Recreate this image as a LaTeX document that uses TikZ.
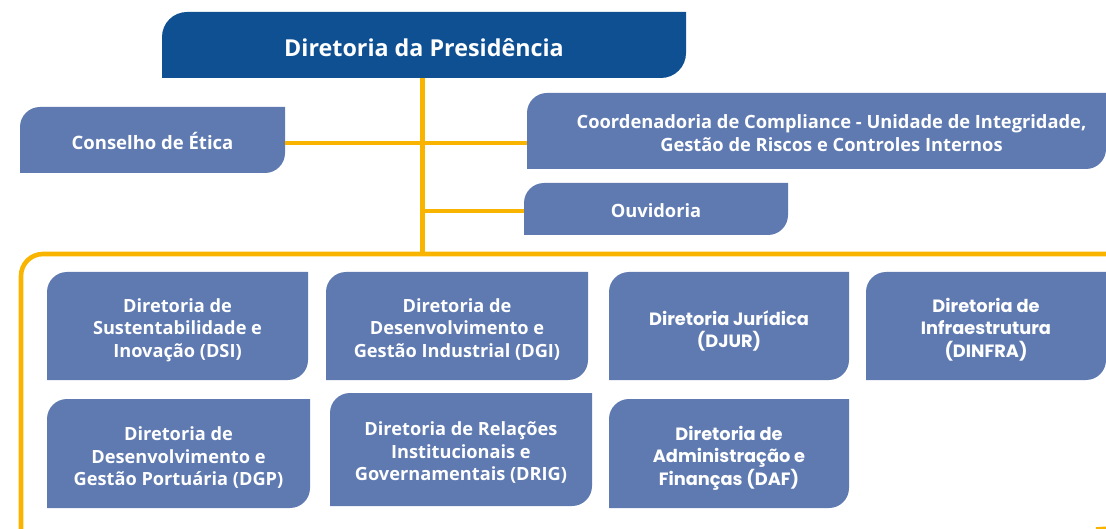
\documentclass[tikz,border=0pt]{standalone}
\usepackage{fontspec}
\setmainfont{Open Sans}
\newfontfamily\popp{Poppins}
\definecolor{darkblue}{HTML}{0F5092}
\definecolor{midblue}{HTML}{5F7AB1}
\definecolor{gold}{HTML}{F9B400}
\tikzset{
  orgbox/.style n args={2}{inner sep=0pt, outer sep=0pt, text=white, align=center,
    font=\bfseries\fontsize{18.2}{22.5}\selectfont,
    path picture={\fill[#1] (path picture bounding box.south west)
      -- ([yshift=-#2]path picture bounding box.north west)
      arc[start angle=180,end angle=90,radius=#2]
      -- (path picture bounding box.north east)
      -- ([yshift=#2]path picture bounding box.south east)
      arc[start angle=0,end angle=-90,radius=#2] -- cycle;}},
  unit/.style={orgbox={midblue}{20pt}},
  topfont/.style={font=\bfseries\fontsize{18.3}{23}\selectfont},
  poppfont/.style={font=\popp\bfseries\fontsize{17.8}{22.5}\selectfont},
  down/.style={text height=#1, text depth=0pt},
  link/.style={draw=gold, line width=4.6pt},
}
\begin{document}
\begin{tikzpicture}[x=1pt,y=1pt]
\useasboundingbox (0,0) rectangle (1106,-529);
% frame
\coordinate (ftop) at (422.5,-254);
\draw[link] (1112,-254) -- (43,-254) arc[start angle=90,end angle=180,radius=22] -- (21,-535);
\draw[link] (1096,-529.5) -- (1110,-528.5);
% nodes
\node[orgbox={darkblue}{25pt}, minimum width=524pt, minimum height=66pt, down=22.6pt,
      font=\bfseries\fontsize{23.3}{26}\selectfont] (pres) at (424,-45) {Diretoria da Presidência};
\node[unit, topfont, down=19pt, minimum width=265pt, minimum height=66pt, font=\bfseries\fontsize{18.5}{23}\selectfont] (etica) at (152.5,-140) {Conselho de Ética};
\node[unit, topfont, down=41pt, minimum width=579pt, minimum height=76pt] (comp) at (816.5,-131) {\hspace*{30pt}Coordenadoria de Compliance - Unidade de Integridade,\\\hspace*{30pt}Gestão de Riscos e Controles Internos};
\node[unit, topfont, down=18pt, minimum width=264pt, minimum height=52pt] (ouv) at (656,-209) {Ouvidoria};
\node[unit, down=63pt, minimum width=261pt, minimum height=108pt] (dsi) at (177.5,-326) {Diretoria de\\Sustentabilidade e\\Inovação (DSI)};
\node[unit, down=63pt, minimum width=262pt, minimum height=108pt] (dgi) at (457,-326) {Diretoria de\\Desenvolvimento e\\Gestão Industrial (DGI)};
\node[unit, poppfont, down=43.8pt, minimum width=240pt, minimum height=108pt] (djur) at (729,-326) {Diretoria Jurídica\\(DJUR)};
\node[unit, poppfont, down=62.4pt, minimum width=240pt, minimum height=108pt] (dinfra) at (986,-326) {Diretoria de\\Infraestrutura\\(DINFRA)};
\node[unit, down=64pt, minimum width=263pt, minimum height=109pt] (dgp) at (178.5,-453.5) {Diretoria de\\Desenvolvimento e\\Gestão Portuária (DGP)};
\node[unit, down=62pt, minimum width=262pt, minimum height=113pt] (drig) at (461,-449.5) {Diretoria de Relações\\Institucionais e\\Governamentais (DRIG)};
\node[unit, poppfont, down=63.4pt, minimum width=240pt, minimum height=109pt] (daf) at (729,-453.5) {Diretoria de\\Administração e\\Finanças (DAF)};
% connectors
\coordinate (ptop) at ([xshift=-1.5pt]pres.south);
\coordinate (eout) at ([yshift=-3pt]etica.east);
\coordinate (oin) at ([yshift=-2pt]ouv.west);
\draw[link] (ptop) -- (ftop);
\draw[link] (eout) -- (eout -| comp.west);
\draw[link] (oin) -- (oin -| ftop);
\end{tikzpicture}
\end{document}
